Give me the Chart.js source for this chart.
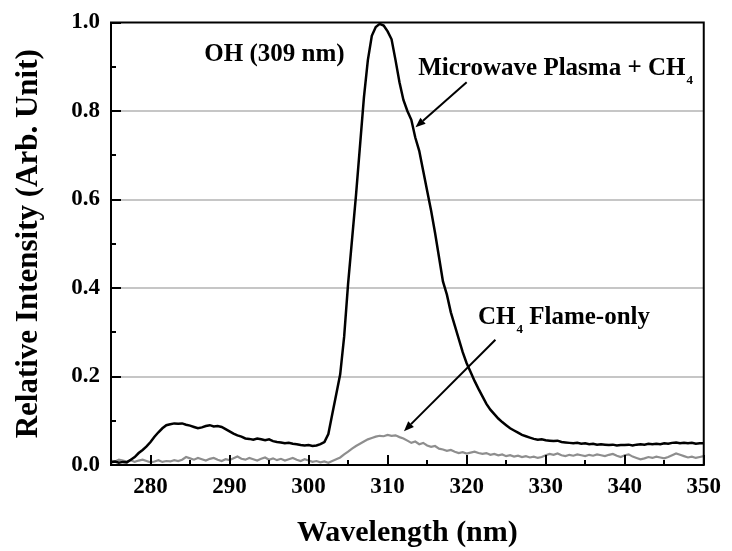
<!DOCTYPE html>
<html>
<head>
<meta charset="utf-8">
<script src="https://cdn.jsdelivr.net/npm/chart.js@4.4.1/dist/chart.umd.min.js"></script>
<style>
  html, body { margin: 0; padding: 0; background: #ffffff; }
  #wrap { width: 732px; height: 551px; }
</style>
</head>
<body>
<div id="wrap"><canvas id="c" width="732" height="551"></canvas></div>
<script>
// ---- data ----
const wavelength = [
  275,275.5,276,276.5,277,277.5,278,278.5,279,279.5,
  280,280.5,281,281.5,282,282.5,283,283.5,284,284.5,
  285,285.5,286,286.5,287,287.5,288,288.5,289,289.5,
  290,290.5,291,291.5,292,292.5,293,293.5,294,294.5,
  295,295.5,296,296.5,297,297.5,298,298.5,299,299.5,
  300,300.5,301,301.5,302,302.5,303,303.5,304,304.5,
  305,305.5,306,306.5,307,307.5,308,308.5,309,309.5,
  310,310.5,311,311.5,312,312.5,313,313.5,314,314.5,
  315,315.5,316,316.5,317,317.5,318,318.5,319,319.5,
  320,320.5,321,321.5,322,322.5,323,323.5,324,324.5,
  325,325.5,326,326.5,327,327.5,328,328.5,329,329.5,
  330,330.5,331,331.5,332,332.5,333,333.5,334,334.5,
  335,335.5,336,336.5,337,337.5,338,338.5,339,339.5,
  340,340.5,341,341.5,342,342.5,343,343.5,344,344.5,
  345,345.5,346,346.5,347,347.5,348,348.5,349,349.5,
  350
];
const plasmaCH4 = [
  0.006,0.008,0.005,0.007,0.006,0.012,0.018,0.027,0.034,0.042,
  0.052,0.064,0.074,0.083,0.090,0.092,0.094,0.093,0.094,0.091,
  0.089,0.086,0.083,0.085,0.088,0.090,0.087,0.088,0.086,0.081,
  0.076,0.071,0.067,0.064,0.060,0.059,0.057,0.060,0.058,0.056,
  0.058,0.054,0.052,0.051,0.049,0.050,0.048,0.047,0.045,0.044,
  0.045,0.043,0.044,0.047,0.052,0.070,0.115,0.160,0.205,0.290,
  0.410,0.510,0.610,0.720,0.830,0.915,0.970,0.990,0.997,0.993,
  0.980,0.962,0.915,0.865,0.825,0.800,0.780,0.740,0.710,0.665,
  0.620,0.575,0.525,0.470,0.415,0.385,0.345,0.315,0.285,0.255,
  0.230,0.210,0.190,0.172,0.155,0.138,0.125,0.115,0.105,0.097,
  0.090,0.083,0.078,0.073,0.068,0.065,0.062,0.059,0.057,0.058,
  0.056,0.055,0.054,0.055,0.052,0.051,0.050,0.049,0.050,0.048,
  0.049,0.047,0.048,0.046,0.047,0.046,0.045,0.046,0.044,0.045,
  0.045,0.046,0.044,0.046,0.047,0.046,0.048,0.047,0.048,0.047,
  0.049,0.048,0.050,0.051,0.049,0.050,0.049,0.050,0.048,0.049,
  0.049
];
const flameOnly = [
  0.010,0.008,0.012,0.010,0.008,0.011,0.007,0.010,0.012,0.009,
  0.006,0.008,0.011,0.007,0.009,0.008,0.011,0.009,0.012,0.018,
  0.015,0.012,0.016,0.013,0.010,0.014,0.016,0.012,0.009,0.013,
  0.011,0.015,0.019,0.014,0.012,0.016,0.013,0.010,0.014,0.017,
  0.012,0.015,0.011,0.014,0.010,0.013,0.016,0.012,0.009,0.013,
  0.010,0.007,0.009,0.006,0.008,0.005,0.009,0.013,0.017,0.024,
  0.030,0.037,0.043,0.048,0.053,0.058,0.061,0.064,0.066,0.065,
  0.068,0.066,0.067,0.063,0.060,0.055,0.050,0.053,0.047,0.050,
  0.044,0.041,0.043,0.037,0.035,0.032,0.034,0.030,0.027,0.029,
  0.026,0.028,0.030,0.027,0.025,0.027,0.023,0.025,0.022,0.024,
  0.020,0.022,0.019,0.021,0.018,0.020,0.017,0.019,0.016,0.018,
  0.022,0.025,0.023,0.026,0.022,0.020,0.023,0.021,0.024,0.022,
  0.020,0.023,0.021,0.024,0.022,0.020,0.023,0.025,0.021,0.018,
  0.022,0.024,0.019,0.016,0.013,0.015,0.018,0.016,0.019,0.017,
  0.015,0.018,0.022,0.026,0.023,0.020,0.017,0.019,0.016,0.018,
  0.020
];
const xTickValues = [280,290,300,310,320,330,340,350];
const xMinorTicks = [275,285,295,305,315,325,335,345];
const yTickValues = [0.0,0.2,0.4,0.6,0.8,1.0];
const yMinorTicks = [0.1,0.3,0.5,0.7,0.9];
const xTitle = 'Wavelength (nm)';
const yTitle = 'Relative Intensity (Arb. Unit)';

// ---- annotation placement (data units) ----
const notes = [
  { main: 'OH (309 nm)', sub: '', rest: '', x: 286.8, y: 0.914 },
  { main: 'Microwave Plasma + CH', sub: '4', rest: '', x: 313.87, y: 0.882 },
  { main: 'CH', sub: '4', rest: ' Flame-only', x: 321.43, y: 0.319 }
];
const arrows = [
  { from: [320.0, 0.865], to: [313.53, 0.763] },
  { from: [323.64, 0.283], to: [312.07, 0.0764] }
];

const SERIF = '"Liberation Serif", "Times New Roman", serif';

const toPoints = (vals) => wavelength.map((w, i) => ({ x: w, y: vals[i] }));

const overlay = {
  id: 'overlay',
  afterDatasetsDraw(chart) {
    const { ctx, chartArea: a, scales } = chart;
    const x = scales.x, y = scales.y;
    ctx.save();
    // inward tick marks
    ctx.strokeStyle = '#000';
    ctx.lineWidth = 2;
    ctx.beginPath();
    xTickValues.forEach(v => { const p = Math.round(x.getPixelForValue(v)); ctx.moveTo(p, a.bottom); ctx.lineTo(p, a.bottom - 10); });
    xMinorTicks.forEach(v => { const p = Math.round(x.getPixelForValue(v)); ctx.moveTo(p, a.bottom); ctx.lineTo(p, a.bottom - 5); });
    yTickValues.forEach(v => { const p = Math.round(y.getPixelForValue(v)); ctx.moveTo(a.left, p); ctx.lineTo(a.left + 10, p); });
    yMinorTicks.forEach(v => { const p = Math.round(y.getPixelForValue(v)); ctx.moveTo(a.left, p); ctx.lineTo(a.left + 5, p); });
    ctx.stroke();
    // frame
    ctx.lineWidth = 2;
    ctx.strokeRect(a.left, a.top, a.right - a.left, a.bottom - a.top);

    // arrows
    arrows.forEach(ar => {
      const x1 = x.getPixelForValue(ar.from[0]), y1 = y.getPixelForValue(ar.from[1]);
      const x2 = x.getPixelForValue(ar.to[0]), y2 = y.getPixelForValue(ar.to[1]);
      const ang = Math.atan2(y2 - y1, x2 - x1);
      const hl = 10, hw = 4;
      const bx = x2 - hl * Math.cos(ang), by = y2 - hl * Math.sin(ang);
      ctx.lineWidth = 2;
      ctx.beginPath(); ctx.moveTo(x1, y1); ctx.lineTo(bx, by); ctx.stroke();
      ctx.beginPath();
      ctx.moveTo(x2, y2);
      ctx.lineTo(bx + hw * Math.sin(ang), by - hw * Math.cos(ang));
      ctx.lineTo(bx - hw * Math.sin(ang), by + hw * Math.cos(ang));
      ctx.closePath(); ctx.fillStyle = '#000'; ctx.fill();
    });

    // text annotations
    ctx.fillStyle = '#000';
    ctx.textAlign = 'left';
    ctx.textBaseline = 'alphabetic';
    notes.forEach(n => {
      let px = x.getPixelForValue(n.x);
      const py = y.getPixelForValue(n.y);
      ctx.font = 'bold 25px ' + SERIF;
      ctx.fillText(n.main, px, py);
      px += ctx.measureText(n.main).width + 1;
      if (n.sub) {
        ctx.font = 'bold 13px ' + SERIF;
        ctx.fillText(n.sub, px, py + 9);
        px += ctx.measureText(n.sub).width;
      }
      if (n.rest) {
        ctx.font = 'bold 25px ' + SERIF;
        ctx.fillText(n.rest, px, py);
      }
    });
    ctx.restore();
  }
};

new Chart(document.getElementById('c'), {
  type: 'line',
  data: {
    datasets: [
      {
        label: 'Microwave Plasma + CH4',
        data: toPoints(plasmaCH4),
        borderColor: '#000000',
        borderWidth: 2.5,
        pointRadius: 0,
        tension: 0,
        fill: false
      },
      {
        label: 'CH4 Flame-only',
        data: toPoints(flameOnly),
        borderColor: '#8e8e8e',
        borderWidth: 2.2,
        pointRadius: 0,
        tension: 0,
        fill: false
      }
    ]
  },
  options: {
    responsive: false,
    animation: false,
    devicePixelRatio: 1,
    layout: { padding: { top: 22, right: 20, left: 0, bottom: 0 } },
    plugins: { legend: { display: false }, tooltip: { enabled: false } },
    scales: {
      x: {
        type: 'linear',
        min: 275,
        max: 350,
        afterBuildTicks: (s) => { s.ticks = xTickValues.map(v => ({ value: v })); },
        afterFit: (s) => { s.height = 86; },
        grid: { display: false, drawTicks: false },
        border: { display: false },
        ticks: {
          padding: 11,
          maxRotation: 0,
          autoSkip: false,
          color: '#000',
          font: { family: SERIF, size: 23, weight: 'bold', lineHeight: 1 },
          callback: (v) => String(v)
        },
        title: {
          display: true,
          text: xTitle,
          color: '#000',
          font: { family: SERIF, size: 30, weight: 'bold', lineHeight: 1 },
          padding: { top: 0, bottom: 3 }
        }
      },
      y: {
        type: 'linear',
        min: 0,
        max: 1,
        afterBuildTicks: (s) => { s.ticks = yTickValues.map(v => ({ value: v })); },
        afterFit: (s) => { s.width = 111; },
        grid: {
          drawTicks: false,
          lineWidth: 2,
          color: (c) => (c.tick && (c.tick.value <= 0.001 || c.tick.value >= 0.999)) ? 'rgba(0,0,0,0)' : '#c6c6c6'
        },
        border: { display: false },
        ticks: {
          padding: 11,
          autoSkip: false,
          color: '#000',
          font: { family: SERIF, size: 23, weight: 'bold', lineHeight: 1 },
          callback: (v) => Number(v).toFixed(1)
        },
        title: {
          display: true,
          text: yTitle,
          color: '#000',
          font: { family: SERIF, size: 31, weight: 'bold', lineHeight: 1 },
          padding: { top: 13, bottom: 0 }
        }
      }
    }
  },
  plugins: [overlay]
});
</script>
</body>
</html>
